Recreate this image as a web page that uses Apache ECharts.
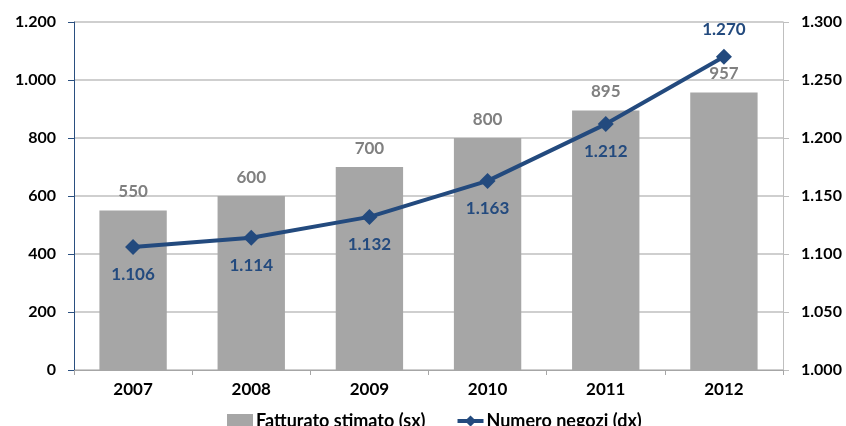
<!DOCTYPE html>
<html><head><meta charset="utf-8">
<script src="https://cdn.jsdelivr.net/npm/echarts@6/dist/echarts.min.js"></script>
<style>html,body{margin:0;padding:0;background:#fff}#c{width:846px;height:426px}</style>
</head><body><div id="c"></div>
<script>
const categories = ['2007','2008','2009','2010','2011','2012'];
const fatturato = [550, 600, 700, 800, 895, 957];
const negozi = [1106, 1114, 1132, 1163, 1212, 1270];
const negoziLabelPos = ['bottom','bottom','bottom','bottom','bottom','top'];

const fmt = v => { const s = String(Math.round(v)); return s.length > 3 ? s.slice(0, s.length-3) + '.' + s.slice(-3) : s; };
const FONT = 'Lato';
const chart = echarts.init(document.getElementById('c'));
chart.setOption({
  animation: false,
  textStyle: {fontFamily: FONT},
  grid: {left: 74, right: 63, top: 22, bottom: 56},
  legend: {
    left: 222, top: 407, itemGap: 30, itemWidth: 26, itemHeight: 14,
    textStyle: {fontFamily: FONT, fontWeight: 'bold', fontSize: 18, color: '#000', padding: [0, 0, 0, -2]},
    data: [
      {name: 'Fatturato stimato (sx)', icon: 'rect'},
      {name: 'Numero negozi (dx)', lineStyle: {width: 4, color: '#234a7e'}}
    ]
  },
  xAxis: {
    type: 'category', data: categories,
    axisLine: {lineStyle: {color: '#a6a6a6'}},
    axisTick: {show: true, alignWithLabel: false, lineStyle: {color: '#a6a6a6'}},
    axisLabel: {fontFamily: FONT, fontWeight: 'bold', fontSize: 17, color: '#000', margin: 11}
  },
  yAxis: [
    {type: 'value', min: 0, max: 1200, interval: 200,
     axisLine: {show: true, lineStyle: {color: '#2a4f80'}},
     axisTick: {show: true, length: 6, lineStyle: {color: '#2a4f80'}},
     splitLine: {lineStyle: {color: '#bfbfbf', width: 1.5}},
     axisLabel: {fontFamily: FONT, fontWeight: 'bold', fontSize: 16, color: '#000', margin: 18, formatter: fmt}},
    {type: 'value', min: 1000, max: 1300, interval: 50,
     axisLine: {show: true, lineStyle: {color: '#bfbfbf'}},
     axisTick: {show: true, length: 6, lineStyle: {color: '#bfbfbf'}},
     splitLine: {show: false},
     axisLabel: {fontFamily: FONT, fontWeight: 'bold', fontSize: 16, color: '#000', margin: 18, formatter: fmt}}
  ],
  series: [
    {name: 'Fatturato stimato (sx)', type: 'bar', data: fatturato, barWidth: '57%',
     itemStyle: {color: '#a6a6a6'},
     label: {show: true, position: 'top', distance: 10, fontFamily: FONT, fontWeight: 'bold', fontSize: 17, color: '#808080', formatter: p => fmt(p.value)}},
    {name: 'Numero negozi (dx)', type: 'line', yAxisIndex: 1,
     data: negozi.map((v, i) => ({value: v, label: {position: negoziLabelPos[i]}})),
     lineStyle: {color: '#234a7e', width: 4},
     itemStyle: {color: '#234a7e'},
     symbol: 'diamond', symbolSize: 16,
     label: {show: true, distance: 11, fontFamily: FONT, fontWeight: 'bold', fontSize: 17, color: '#234a7e', formatter: p => fmt(p.value)}}
  ]
});
</script></body></html>
